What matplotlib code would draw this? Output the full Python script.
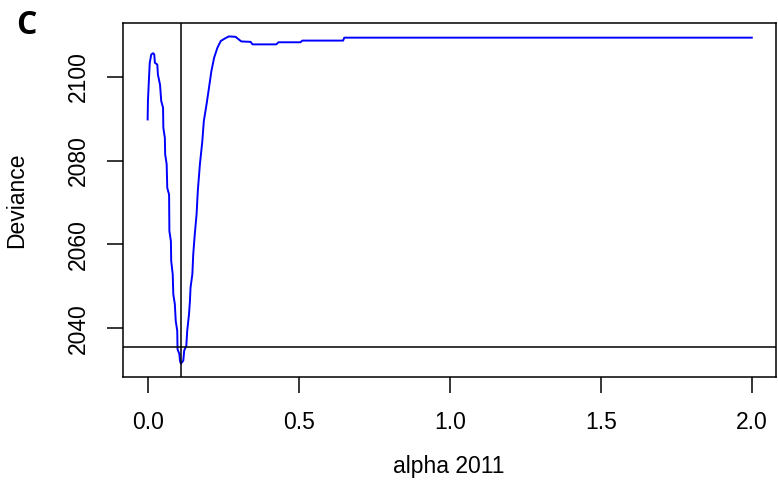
import numpy as np
import matplotlib
matplotlib.use("Agg")
import matplotlib.pyplot as plt

# Profile deviance over alpha (2011 season)
alpha = [0.000, 0.001, 0.004, 0.007, 0.012, 0.018, 0.022, 0.024, 0.032, 0.034,
         0.041, 0.045, 0.051, 0.052, 0.057, 0.058, 0.063, 0.065, 0.071, 0.072,
         0.077, 0.078, 0.083, 0.085, 0.090, 0.093, 0.098, 0.099, 0.105, 0.107,
         0.110, 0.118, 0.121, 0.128, 0.131, 0.137, 0.140, 0.142, 0.148, 0.151,
         0.156, 0.162, 0.166, 0.173, 0.181, 0.186, 0.195, 0.203, 0.211, 0.220,
         0.231, 0.242, 0.258, 0.269, 0.291, 0.310, 0.341, 0.347, 0.426, 0.433,
         0.506, 0.512, 0.647, 0.651, 2.000]
deviance = [2089.8, 2094.2, 2098.9, 2103.3, 2105.3, 2105.6, 2105.3, 2103.3, 2102.9, 2100.5,
            2098.1, 2094.2, 2092.6, 2087.8, 2085.4, 2081.5, 2079.1, 2073.5, 2071.9, 2063.2,
            2060.8, 2056.1, 2052.9, 2048.1, 2045.8, 2041.8, 2039.4, 2035.0, 2033.9, 2032.3,
            2031.6, 2032.3, 2034.7, 2035.8, 2039.4, 2043.4, 2046.5, 2049.7, 2052.9, 2057.7,
            2062.4, 2067.2, 2072.7, 2079.1, 2084.6, 2089.4, 2093.4, 2097.3, 2101.3, 2104.5,
            2106.9, 2108.5, 2109.2, 2109.6, 2109.5, 2108.4, 2108.3, 2107.7, 2107.7, 2108.2,
            2108.2, 2108.6, 2108.6, 2109.3, 2109.3]
x_ticks = [0.0, 0.5, 1.0, 1.5, 2.0]
y_ticks = [2040, 2060, 2080, 2100]

alpha = np.array(alpha)
deviance = np.array(deviance)
best = np.argmin(deviance)
alpha_hat = alpha[best]
cutoff = deviance[best] + 3.84  # chi-square(1) 95% cutoff

plt.rcParams["font.family"] = ["Liberation Sans", "DejaVu Sans"]

fig = plt.figure(figsize=(7.78, 4.95), dpi=100)
ax = fig.add_axes([0.1587, 0.2390, 0.9974 - 0.1587, 0.9529 - 0.2390])

ax.plot(alpha, deviance, color="#0000ff", lw=1.4)
ax.axvline(alpha_hat, color="black", lw=1.1)
ax.axhline(cutoff, color="black", lw=1.1)

# R-style 4% padding around the data range
xr = alpha.max() - alpha.min()
yr = deviance.max() - deviance.min()
ax.set_xlim(alpha.min() - 0.04 * xr, alpha.max() + 0.04 * xr)
ax.set_ylim(deviance.min() - 0.04 * yr, deviance.max() + 0.04 * yr)

ax.set_xticks(x_ticks)
ax.set_xticklabels(["0.0", "0.5", "1.0", "1.5", "2.0"])
ax.set_yticks(y_ticks)
ax.set_yticklabels([str(v) for v in y_ticks], rotation=90, va="center")
ax.tick_params(direction="out", length=11.5, width=1.1, labelsize=16.5, color="black")
ax.tick_params(axis="x", pad=13)
ax.tick_params(axis="y", pad=13)

for s in ax.spines.values():
    s.set_linewidth(1.1)

fig.text(449 / 778, 1 - 466 / 495, "alpha 2011", ha="center", va="center", fontsize=16.5)
fig.text(17 / 778, 1 - 200 / 495, "Deviance", ha="center", va="center", fontsize=16.5, rotation=90)
fig.text(26 / 778, 1 - 26 / 495, "C", ha="center", va="center", fontsize=23,
         fontweight="bold", family=["Open Sans", "DejaVu Sans"])

fig.savefig("out.png", dpi=100)
